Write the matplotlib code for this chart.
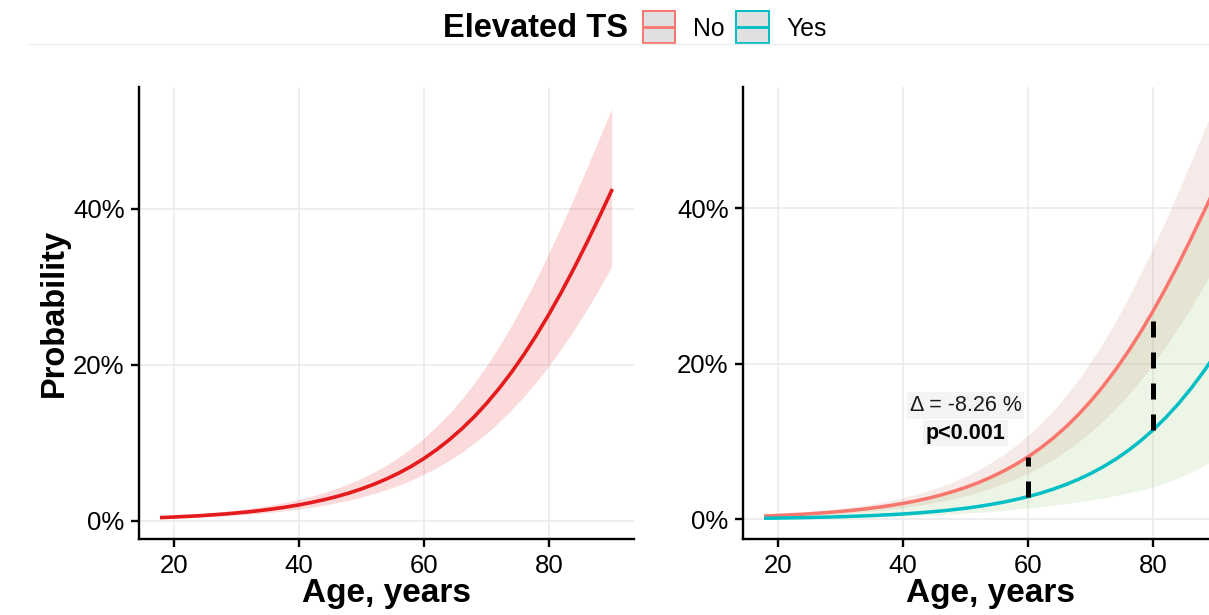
import matplotlib.pyplot as plt
from matplotlib.lines import Line2D
from matplotlib.patches import Rectangle

plt.rcParams['font.family'] = ['Liberation Sans', 'DejaVu Sans']

# values (every 2 years of age)
ages = [18, 20, 22, 24, 26, 28, 30, 32, 34, 36, 38, 40, 42, 44, 46, 48, 50, 52, 54,
        56, 58, 60, 62, 64, 66, 68, 70, 72, 74, 76, 78, 80, 82, 84, 86, 88, 90]

# left panel: overall model
overall_prob = [0.0044, 0.0051, 0.0059, 0.0067, 0.0078, 0.0089, 0.0103, 0.0118, 0.0136, 0.0157,
                0.0180, 0.0207, 0.0238, 0.0273, 0.0313, 0.0359, 0.0412, 0.0472, 0.0540, 0.0617,
                0.0704, 0.0803, 0.0915, 0.1040, 0.1180, 0.1335, 0.1509, 0.1700, 0.1909, 0.2138,
                0.2387, 0.2654, 0.2940, 0.3243, 0.3561, 0.3894, 0.4236]
overall_lo = [0.0031, 0.0036, 0.0042, 0.0049, 0.0056, 0.0065, 0.0075, 0.0087, 0.0100, 0.0116,
              0.0134, 0.0154, 0.0177, 0.0204, 0.0234, 0.0268, 0.0308, 0.0353, 0.0404, 0.0461,
              0.0527, 0.0600, 0.0683, 0.0776, 0.0880, 0.0997, 0.1125, 0.1269, 0.1426, 0.1599,
              0.1787, 0.1992, 0.2215, 0.2453, 0.2705, 0.2974, 0.3256]
overall_hi = [0.0062, 0.0071, 0.0081, 0.0093, 0.0107, 0.0122, 0.0140, 0.0161, 0.0184, 0.0211,
              0.0242, 0.0277, 0.0318, 0.0365, 0.0418, 0.0479, 0.0549, 0.0628, 0.0718, 0.0820,
              0.0936, 0.1067, 0.1214, 0.1379, 0.1563, 0.1767, 0.1992, 0.2239, 0.2509, 0.2799,
              0.3111, 0.3441, 0.3787, 0.4148, 0.4521, 0.4900, 0.5280]

# right panel: by elevated TS
no_prob = [0.0043, 0.0050, 0.0058, 0.0066, 0.0077, 0.0088, 0.0102, 0.0117, 0.0135, 0.0155,
           0.0178, 0.0205, 0.0236, 0.0271, 0.0312, 0.0358, 0.0411, 0.0471, 0.0540, 0.0618,
           0.0706, 0.0805, 0.0918, 0.1044, 0.1186, 0.1344, 0.1519, 0.1712, 0.1925, 0.2157,
           0.2408, 0.2680, 0.2969, 0.3276, 0.3599, 0.3934, 0.4280]
no_lo = [0.0031, 0.0035, 0.0041, 0.0048, 0.0055, 0.0064, 0.0074, 0.0085, 0.0098, 0.0114,
         0.0131, 0.0151, 0.0174, 0.0201, 0.0231, 0.0265, 0.0304, 0.0349, 0.0400, 0.0457,
         0.0523, 0.0596, 0.0679, 0.0773, 0.0877, 0.0994, 0.1123, 0.1267, 0.1426, 0.1600,
         0.1790, 0.1997, 0.2222, 0.2462, 0.2717, 0.2988, 0.3274]
no_hi = [0.0062, 0.0071, 0.0081, 0.0093, 0.0106, 0.0122, 0.0140, 0.0160, 0.0184, 0.0211,
         0.0243, 0.0278, 0.0319, 0.0367, 0.0421, 0.0482, 0.0553, 0.0633, 0.0725, 0.0829,
         0.0947, 0.1079, 0.1229, 0.1397, 0.1584, 0.1792, 0.2021, 0.2272, 0.2546, 0.2842,
         0.3158, 0.3493, 0.3843, 0.4209, 0.4586, 0.4968, 0.5349]

yes_prob = [0.0014, 0.0016, 0.0019, 0.0022, 0.0025, 0.0029, 0.0034, 0.0039, 0.0045, 0.0052,
            0.0060, 0.0069, 0.0080, 0.0093, 0.0107, 0.0124, 0.0143, 0.0165, 0.0191, 0.0220,
            0.0254, 0.0292, 0.0337, 0.0388, 0.0446, 0.0513, 0.0589, 0.0675, 0.0773, 0.0884,
            0.1009, 0.1150, 0.1307, 0.1482, 0.1677, 0.1891, 0.2125]
yes_lo = [0.0009, 0.0010, 0.0011, 0.0013, 0.0015, 0.0018, 0.0020, 0.0024, 0.0027, 0.0032,
          0.0036, 0.0041, 0.0047, 0.0054, 0.0061, 0.0070, 0.0079, 0.0089, 0.0101, 0.0115,
          0.0130, 0.0147, 0.0164, 0.0182, 0.0202, 0.0224, 0.0248, 0.0275, 0.0305, 0.0338,
          0.0374, 0.0414, 0.0470, 0.0532, 0.0606, 0.0687, 0.0780]
yes_hi = [0.0043, 0.0050, 0.0057, 0.0066, 0.0076, 0.0087, 0.0101, 0.0116, 0.0134, 0.0154,
          0.0177, 0.0204, 0.0235, 0.0269, 0.0310, 0.0355, 0.0408, 0.0467, 0.0536, 0.0613,
          0.0702, 0.0799, 0.0912, 0.1036, 0.1179, 0.1334, 0.1510, 0.1700, 0.1913, 0.2143,
          0.2394, 0.2664, 0.2951, 0.3259, 0.3577, 0.3916, 0.4262]

compare_ages = [60, 80]
delta_label = 'Δ = -8.26 %'
p_label = 'p<0.001'
label_age = 50
label_y = [0.146, 0.111]

groups = ['No', 'Yes']
group_colors = ['#F8766D', '#00BFC4']
x_ticks = [20, 40, 60, 80]
y_ticks = [0.0, 0.2, 0.4]
y_ticklabels = ['0%', '20%', '40%']

W, H = 1209, 615
fig = plt.figure(figsize=(W / 100, H / 100), dpi=100)


def box(l, t, r, b):
    # pixel box -> figure fraction
    return [l / W, 1 - b / H, (r - l) / W, (b - t) / H]


ax1 = fig.add_axes(box(139.3, 86.7, 634.1, 539.3))
ax2 = fig.add_axes(box(743.3, 86.7, 1238.1, 539.3))


def style(ax, ylim):
    ax.set_xlim(14.4, 93.6)
    ax.set_ylim(*ylim)
    ax.set_xticks(x_ticks)
    ax.set_yticks(y_ticks)
    ax.set_yticklabels(y_ticklabels)
    ax.grid(color='#EBEBEB', lw=1.2)
    ax.set_axisbelow(True)
    for s in ['top', 'right']:
        ax.spines[s].set_visible(False)
    for s in ['left', 'bottom']:
        ax.spines[s].set_linewidth(1.7)
        ax.spines[s].set_color('black')
    ax.tick_params(length=5.5, width=1.7, pad=5, labelsize=18.5, colors='black')
    ax.set_xlabel('Age, years', fontsize=24, fontweight='bold', labelpad=0)


# left panel
style(ax1, (-0.0235, 0.5568))
ax1.fill_between(ages, overall_lo, overall_hi, color='#E41A1C', alpha=0.16, lw=0)
ax1.plot(ages, overall_prob, color='#E41A1C', lw=2.6)
ax1.set_ylabel('Probability', fontsize=23.5, fontweight='bold', labelpad=2.5)

# right panel
style(ax2, (-0.0257, 0.5564))
ax2.fill_between(ages, no_lo, no_hi, color='#CD968C', alpha=0.2, lw=0)
ax2.fill_between(ages, yes_lo, yes_hi, color='#A5CD82', alpha=0.2, lw=0)
ax2.plot(ages, no_prob, color=group_colors[0], lw=2.5)
ax2.plot(ages, yes_prob, color=group_colors[1], lw=2.5)

# dashed gaps between groups
for a in compare_ages:
    i = ages.index(a)
    ax2.plot([a, a], [yes_prob[i], no_prob[i]], color='black', lw=3.6,
             linestyle=(0, (3.2, 3.0)), zorder=5)

lbl_box = dict(facecolor='#F4F4F4', edgecolor='none', pad=2)
ax2.text(label_age, label_y[0], delta_label, fontsize=15.5, ha='center', va='center',
         color='#1a1a1a', bbox=lbl_box, zorder=6)
ax2.text(label_age, label_y[1], p_label, fontsize=15.5, fontweight='bold', ha='center',
         va='center', color='black', bbox=lbl_box, zorder=6)

# legend on top, drawn by hand
fig.add_artist(Line2D([29.3 / W, 1], [1 - 44 / H] * 2, color='#EBEBEB', lw=1))
fig.text(443 / W, 1 - 37.3 / H, 'Elevated TS', fontsize=23.5, fontweight='bold',
         ha='left', va='baseline')
key_x = [642.7, 736.3]
text_x = [693.3, 786.7]
for g, c, kx, tx in zip(groups, group_colors, key_x, text_x):
    fig.add_artist(Rectangle((kx / W, 1 - 42.7 / H), 32.3 / W, 32 / H, transform=fig.transFigure,
                             facecolor='#E0E0E0', edgecolor=c, lw=1.4))
    fig.add_artist(Line2D([(kx + 1) / W, (kx + 31.3) / W], [1 - 26.7 / H] * 2, color=c, lw=2))
    fig.text(tx / W, 1 - 36 / H, g, fontsize=17.8, ha='left', va='baseline')

fig.savefig('out.png', dpi=100, facecolor='white')
